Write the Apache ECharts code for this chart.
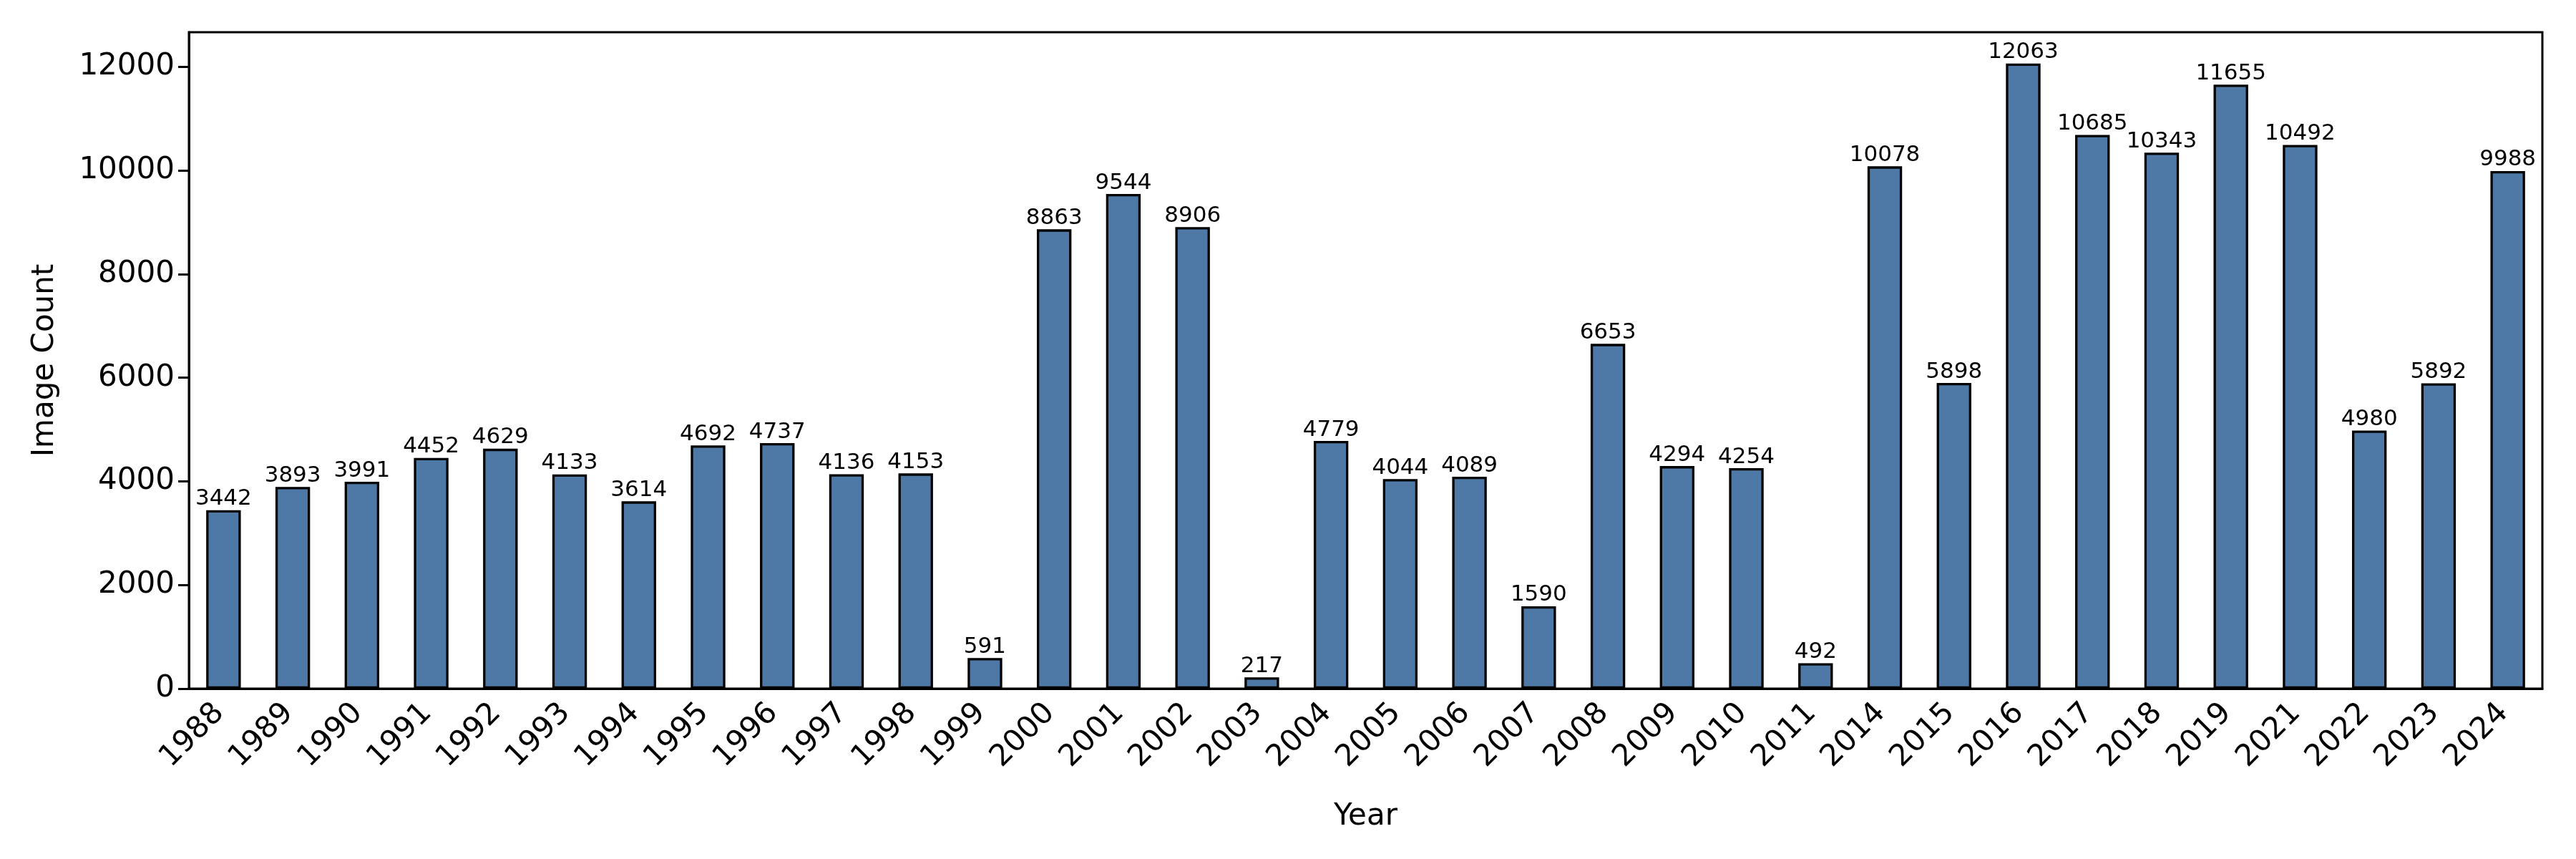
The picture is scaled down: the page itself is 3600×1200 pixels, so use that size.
<!DOCTYPE html>
<html><head><meta charset="utf-8">
<script src="https://cdn.jsdelivr.net/npm/echarts@6/dist/echarts.min.js"></script>
<style>html,body{margin:0;padding:0;background:#fff}#c{width:3600px;height:1200px}</style>
</head><body><div id="c"></div>
<script>
const years = ['1988','1989','1990','1991','1992','1993','1994','1995','1996','1997','1998','1999','2000','2001','2002','2003','2004','2005','2006','2007','2008','2009','2010','2011','2014','2015','2016','2017','2018','2019','2021','2022','2023','2024'];
const counts = [3442,3893,3991,4452,4629,4133,3614,4692,4737,4136,4153,591,8863,9544,8906,217,4779,4044,4089,1590,6653,4294,4254,492,10078,5898,12063,10685,10343,11655,10492,4980,5892,9988];
const yTicks = [0,2000,4000,6000,8000,10000,12000];

const FONT = 'DejaVu Sans';
const chart = echarts.init(document.getElementById('c'), null, {renderer:'canvas'});
chart.setOption({
  animation:false,
  backgroundColor:'#ffffff',
  grid:{left:264, right:47, top:45, bottom:238, show:true, borderColor:'#000', borderWidth:3, backgroundColor:'transparent'},
  xAxis:{
    type:'category', data:years, boundaryGap:true,
    name:'Year', nameLocation:'middle', nameGap:158,
    nameTextStyle:{fontFamily:FONT, fontSize:42, color:'#000'},
    axisLine:{lineStyle:{color:'#000', width:3}},
    axisTick:{alignWithLabel:true, length:15, lineStyle:{color:'#000', width:3}},
    axisLabel:{rotate:45, interval:0, margin:22, padding:[0,8,0,0], fontFamily:FONT, fontSize:42, color:'#000'}
  },
  yAxis:{
    type:'value', min:0, max:12666,
    name:'Image Count', nameLocation:'middle', nameGap:180,
    nameTextStyle:{fontFamily:FONT, fontSize:42, color:'#000'},
    splitLine:{show:false},
    axisLine:{show:true, lineStyle:{color:'#000', width:3}},
    axisTick:{show:true, length:15, lineStyle:{color:'#000', width:3}, customValues:yTicks},
    axisLabel:{fontFamily:FONT, fontSize:42, color:'#000', margin:20, customValues:yTicks, formatter:v=>String(v)}
  },
  series:[{
    type:'bar', data:counts, barWidth:'50%',
    itemStyle:{color:'#4e78a5', borderColor:'#000', borderWidth:3.3},
    label:{show:true, position:'top', distance:0, fontFamily:FONT, fontSize:31, color:'#000'}
  }]
});
</script></body></html>
